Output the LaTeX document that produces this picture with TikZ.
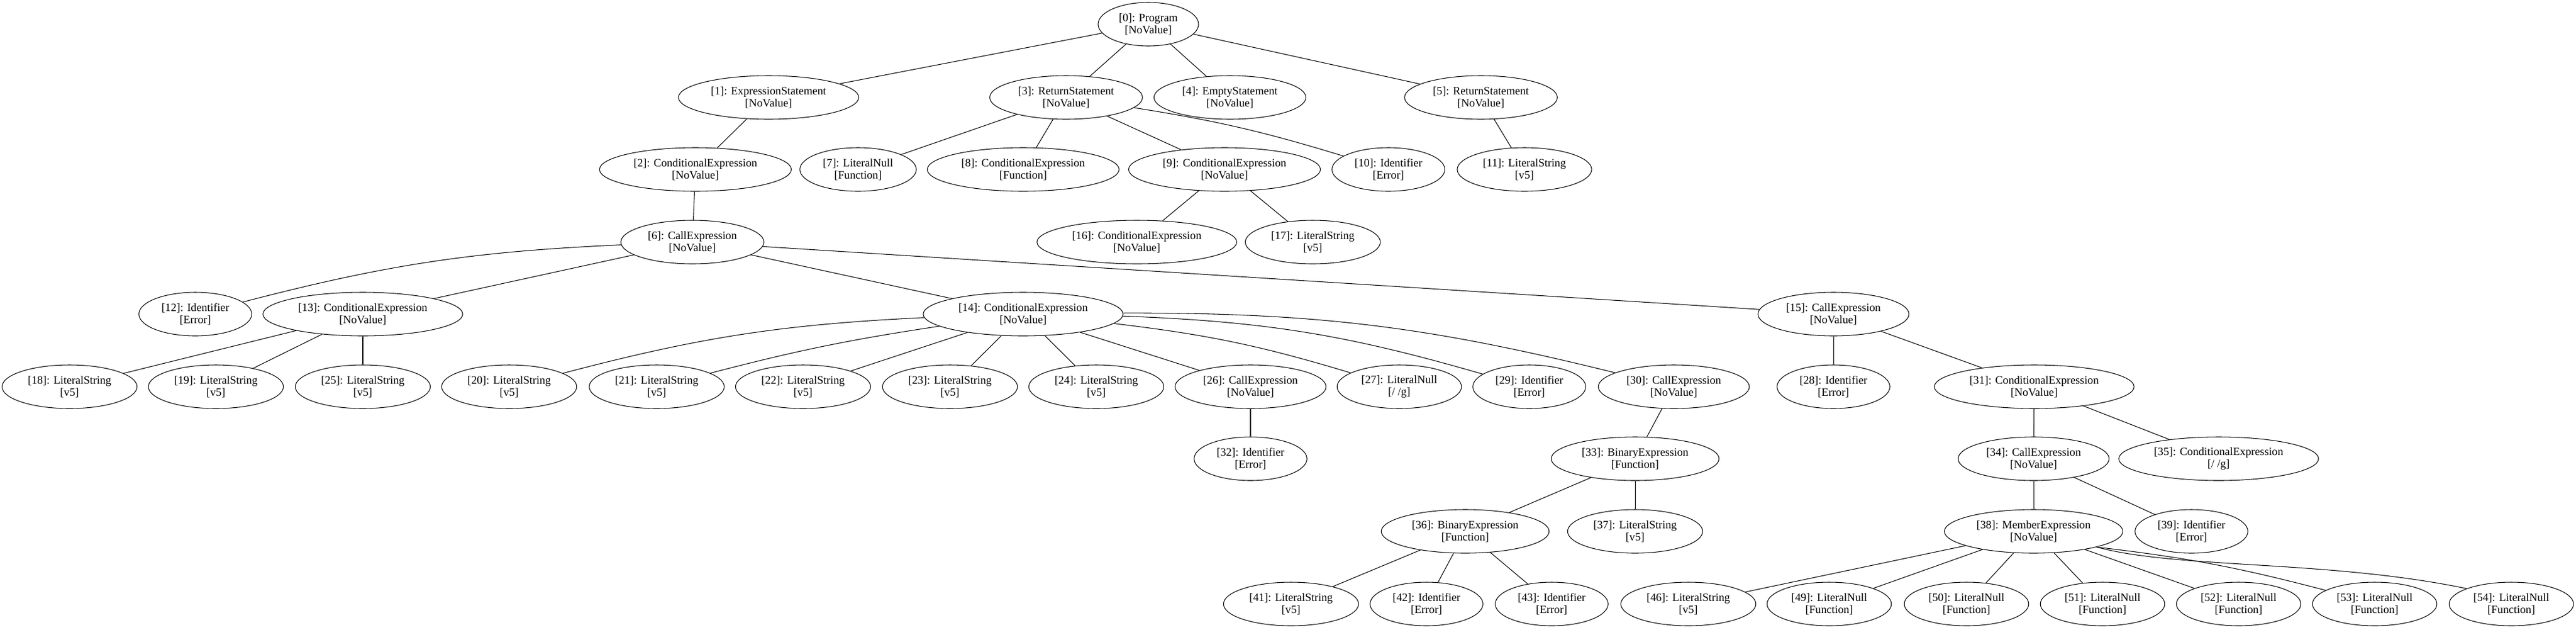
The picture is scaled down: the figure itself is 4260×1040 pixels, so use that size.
\documentclass[tikz,border=0pt]{standalone}
\usepackage{fontspec}
\setmainfont{Liberation Serif}
\usetikzlibrary{shapes.geometric}
\tikzset{
  astnode/.style={draw, ellipse, line width=0.8pt, inner xsep=7.5pt, inner ysep=3pt,
    minimum height=54pt, align=center, font=\fontsize{14pt}{15pt}\selectfont},
  edge/.style={draw, line width=0.8pt}
}
\begin{document}
\begin{tikzpicture}[x=0.75pt,y=-0.75pt]
\useasboundingbox (0,0) rectangle (4260,1040);
% row 0
\node[astnode] (n0) at (1899,40) {[0]: Program\\{}[NoValue]};
% row 1
\node[astnode] (n1) at (1271,161) {[1]: ExpressionStatement\\{}[NoValue]};
\node[astnode] (n3) at (1763,161) {[3]: ReturnStatement\\{}[NoValue]};
\node[astnode] (n4) at (2034,161) {[4]: EmptyStatement\\{}[NoValue]};
\node[astnode] (n5) at (2449,161) {[5]: ReturnStatement\\{}[NoValue]};
% row 2
\node[astnode] (n2) at (1150,280) {[2]: ConditionalExpression\\{}[NoValue]};
\node[astnode] (n7) at (1419,280) {[7]: LiteralNull\\{}[Function]};
\node[astnode] (n8) at (1692,280) {[8]: ConditionalExpression\\{}[Function]};
\node[astnode] (n9) at (2025,280) {[9]: ConditionalExpression\\{}[NoValue]};
\node[astnode] (n10) at (2296,280) {[10]: Identifier\\{}[Error]};
\node[astnode] (n11) at (2521,280) {[11]: LiteralString\\{}[v5]};
% row 3
\node[astnode] (n6) at (1145,400) {[6]: CallExpression\\{}[NoValue]};
\node[astnode] (n16) at (1880,400) {[16]: ConditionalExpression\\{}[NoValue]};
\node[astnode] (n17) at (2171,400) {[17]: LiteralString\\{}[v5]};
% row 4
\node[astnode] (n12) at (323,519) {[12]: Identifier\\{}[Error]};
\node[astnode] (n13) at (600,519) {[13]: ConditionalExpression\\{}[NoValue]};
\node[astnode] (n14) at (1692,519) {[14]: ConditionalExpression\\{}[NoValue]};
\node[astnode] (n15) at (3032,519) {[15]: CallExpression\\{}[NoValue]};
% row 5
\node[astnode] (n18) at (115,639) {[18]: LiteralString\\{}[v5]};
\node[astnode] (n19) at (357,639) {[19]: LiteralString\\{}[v5]};
\node[astnode] (n25) at (600,639) {[25]: LiteralString\\{}[v5]};
\node[astnode] (n20) at (842,639) {[20]: LiteralString\\{}[v5]};
\node[astnode] (n21) at (1086,639) {[21]: LiteralString\\{}[v5]};
\node[astnode] (n22) at (1328,639) {[22]: LiteralString\\{}[v5]};
\node[astnode] (n23) at (1571,639) {[23]: LiteralString\\{}[v5]};
\node[astnode] (n24) at (1813,639) {[24]: LiteralString\\{}[v5]};
\node[astnode] (n26) at (2068,639) {[26]: CallExpression\\{}[NoValue]};
\node[astnode] (n27) at (2314,639) {[27]: LiteralNull\\{}[/ /g]};
\node[astnode] (n29) at (2529,639) {[29]: Identifier\\{}[Error]};
\node[astnode] (n30) at (2768,639) {[30]: CallExpression\\{}[NoValue]};
\node[astnode] (n28) at (3032,639) {[28]: Identifier\\{}[Error]};
\node[astnode] (n31) at (3364,639) {[31]: ConditionalExpression\\{}[NoValue]};
% row 6
\node[astnode] (n32) at (2068,758) {[32]: Identifier\\{}[Error]};
\node[astnode] (n33) at (2704,758) {[33]: BinaryExpression\\{}[Function]};
\node[astnode] (n34) at (3363,758) {[34]: CallExpression\\{}[NoValue]};
\node[astnode] (n35) at (3669,758) {[35]: ConditionalExpression\\{}[/ /g]};
% row 7
\node[astnode] (n36) at (2423,878) {[36]: BinaryExpression\\{}[Function]};
\node[astnode] (n37) at (2704,878) {[37]: LiteralString\\{}[v5]};
\node[astnode] (n38) at (3363,878) {[38]: MemberExpression\\{}[NoValue]};
\node[astnode] (n39) at (3624,878) {[39]: Identifier\\{}[Error]};
% row 8
\node[astnode] (n41) at (2135,998) {[41]: LiteralString\\{}[v5]};
\node[astnode] (n42) at (2359,998) {[42]: Identifier\\{}[Error]};
\node[astnode] (n43) at (2566,998) {[43]: Identifier\\{}[Error]};
\node[astnode] (n46) at (2792,998) {[46]: LiteralString\\{}[v5]};
\node[astnode] (n49) at (3025,998) {[49]: LiteralNull\\{}[Function]};
\node[astnode] (n50) at (3252,998) {[50]: LiteralNull\\{}[Function]};
\node[astnode] (n51) at (3477,998) {[51]: LiteralNull\\{}[Function]};
\node[astnode] (n52) at (3702,998) {[52]: LiteralNull\\{}[Function]};
\node[astnode] (n53) at (3927,998) {[53]: LiteralNull\\{}[Function]};
\node[astnode] (n54) at (4153,998) {[54]: LiteralNull\\{}[Function]};
% edges
\draw[edge] (n0) -- (n1);
\draw[edge] (n0) -- (n3);
\draw[edge] (n0) -- (n4);
\draw[edge] (n0) -- (n5);
\draw[edge] (n1) -- (n2);
\draw[edge] (n3) -- (n7);
\draw[edge] (n3) -- (n8);
\draw[edge] (n3) -- (n9);
\draw[edge] (n3) to[bend left=4] (n10);
\draw[edge] (n5) -- (n11);
\draw[edge] (n2) -- (n6);
\draw[edge] (n9) -- (n16);
\draw[edge] (n9) -- (n17);
\draw[edge] (n6) to[bend right=6] (n12);
\draw[edge] (n6) -- (n13);
\draw[edge] (n6) -- (n14);
\draw[edge] (n6) -- (n15);
\draw[edge] (n13) -- (n18);
\draw[edge] (n13) -- (n19);
\draw[edge] (n13) -- (n25);
\draw[edge] (n14) to[bend right=6] (n20);
\draw[edge] (n14) to[bend right=3] (n21);
\draw[edge] (n14) -- (n22);
\draw[edge] (n14) -- (n23);
\draw[edge] (n14) -- (n24);
\draw[edge] (n14) -- (n26);
\draw[edge] (n14) to[bend left=5] (n27);
\draw[edge] (n14) to[bend left=7] (n29);
\draw[edge] (n14) to[bend left=7] (n30);
\draw[edge] (n15) -- (n28);
\draw[edge] (n15) -- (n31);
\draw[edge] (n26) -- (n32);
\draw[edge] (n30) -- (n33);
\draw[edge] (n31) -- (n34);
\draw[edge] (n31) -- (n35);
\draw[edge] (n33) -- (n36);
\draw[edge] (n33) -- (n37);
\draw[edge] (n34) -- (n38);
\draw[edge] (n34) -- (n39);
\draw[edge] (n36) -- (n41);
\draw[edge] (n36) -- (n42);
\draw[edge] (n36) -- (n43);
\draw[edge] (n38) -- (n46);
\draw[edge] (n38) -- (n49);
\draw[edge] (n38) -- (n50);
\draw[edge] (n38) -- (n51);
\draw[edge] (n38) -- (n52);
\draw[edge] (n38.-14) to[bend left=4] (n53);
\draw[edge] (n38.-14) .. controls (3600,940) and (3850,925) .. (n54.161);
\end{tikzpicture}
\end{document}
